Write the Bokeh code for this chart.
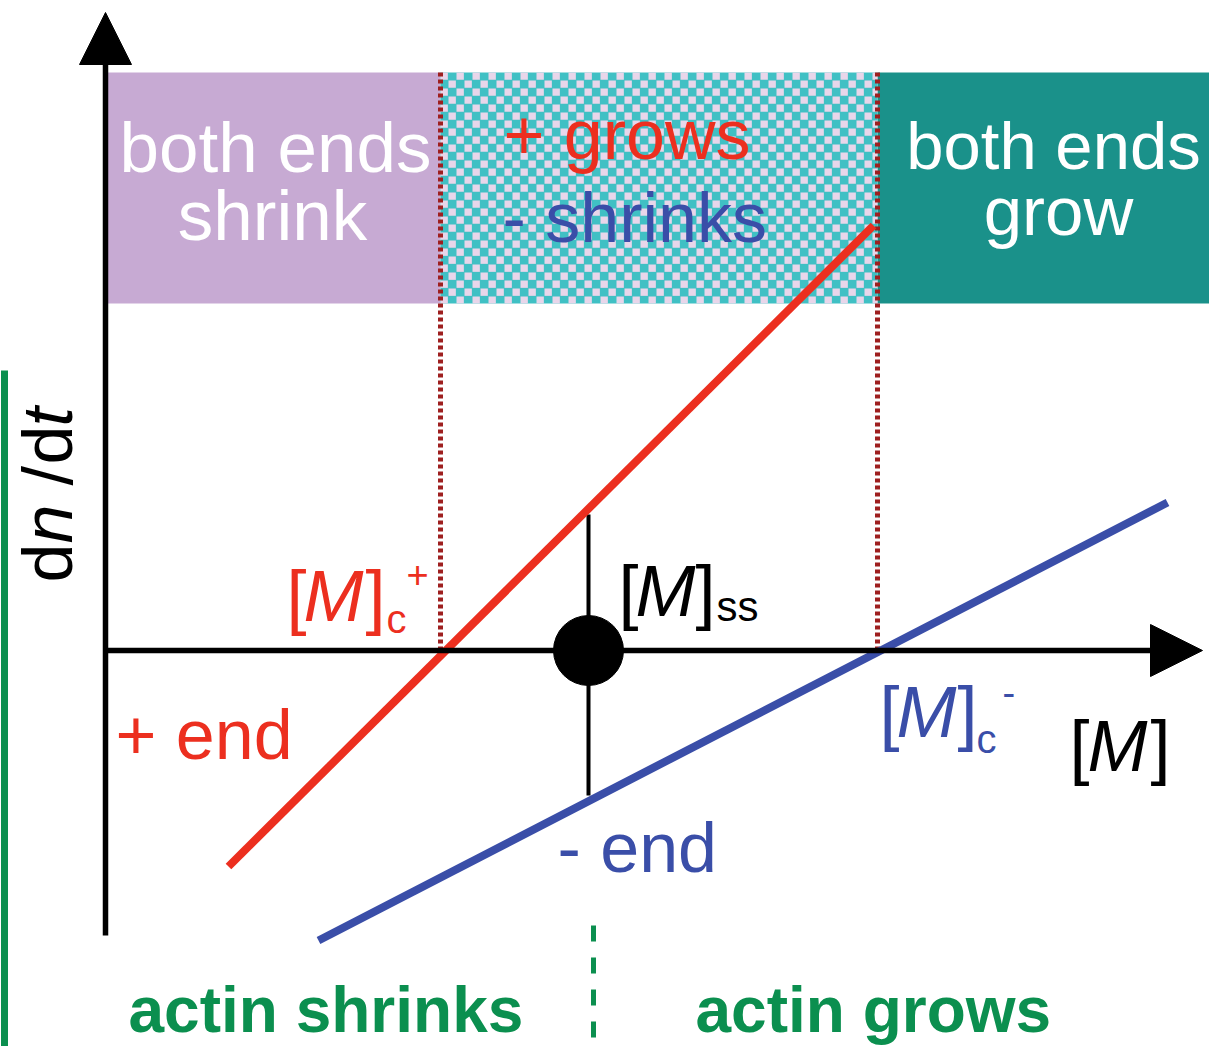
import numpy as np
from math import pi
from bokeh.plotting import figure
from bokeh.models import Range1d, Label, Arrow, NormalHead
from bokeh.embed import file_html
from bokeh.resources import INLINE

# ---------------- data (conceptual units: [M] on x, dn/dt on y) ----------------
plus_end_x = [1.23, 7.68]      # + end line (red)
plus_end_y = [-2.16, 4.25]
minus_end_x = [2.13, 10.62]    # - end line (blue)
minus_end_y = [-2.90, 1.48]
Mc_plus = 3.35                 # critical concentration, + end
Mss = 4.83                     # steady-state concentration
Mc_minus = 7.72                # critical concentration, - end
ss_rate_plus = 1.36            # + end rate at [M]ss
ss_rate_minus = -1.45          # - end rate at [M]ss
regime_labels = [("both ends", "shrink"), ("+ grows", "- shrinks"), ("both ends", "grow")]
bottom_labels = ["actin shrinks", "actin grows"]

FONT = "Liberation Sans"
RED = "#ec2f1f"
BLUE = "#3a4ea8"
DRED = "#9e1f1f"
GREEN = "#0b8f4f"
PURPLE = "#c7aad3"
TEAL = "#1a918a"
CHK_T = "#40c0c4"
CHK_P = "#e8d6ea"

# layout helpers: picture pixel -> plot units
def X(px):
    return (px - 105) / 100.0

def Y(py):
    return (650 - py) / 100.0

W, H = 1209, 1046
p = figure(width=W, height=H, x_range=Range1d(X(0), X(W)), y_range=Range1d(Y(H), Y(0)),
           x_axis_type=None, y_axis_type=None, toolbar_location=None, output_backend="svg",
           min_border=0, outline_line_color=None, background_fill_color="white",
           border_fill_color="white")
p.grid.visible = False

band_top, band_bot = Y(72), Y(303)
x_right = X(W)
# regime bands
p.quad(left=[0], right=[Mc_plus], top=[band_top], bottom=[band_bot], fill_color=PURPLE, line_color=None)
p.quad(left=[Mc_minus], right=[x_right], top=[band_top], bottom=[band_bot], fill_color=TEAL, line_color=None)
p.quad(left=[Mc_plus], right=[Mc_minus], top=[band_top], bottom=[band_bot], fill_color=CHK_T, line_color=None)
# checker texture
cell = 0.08
nx = int(np.ceil((Mc_minus - Mc_plus) / cell))
ny = int(np.ceil((band_top - band_bot) / cell))
lefts, tops = [], []
for i in range(nx):
    for j in range(ny):
        if (i + j) % 2 == 0:
            lefts.append(Mc_plus + i * cell)
            tops.append(band_top - j * cell)
lefts = np.array(lefts); tops = np.array(tops)
rights = np.minimum(lefts + cell * 0.92, Mc_minus)
bots = np.maximum(tops - cell * 0.92, band_bot)
p.quad(left=lefts, right=rights, top=tops, bottom=bots, fill_color=CHK_P, line_color=None)

# dotted critical lines
for xc in (Mc_plus, Mc_minus):
    p.line([xc, xc], [band_top, 0], line_color=DRED, line_width=5, line_dash="4 3")

# axes with arrows
p.add_layout(Arrow(end=NormalHead(size=52, fill_color="black", line_color="black"),
                   x_start=0, y_start=Y(935), x_end=0, y_end=Y(12), line_width=5.5, line_color="black"))
p.add_layout(Arrow(end=NormalHead(size=52, fill_color="black", line_color="black"),
                   x_start=0, y_start=0, x_end=X(1202), y_end=0, line_width=5.5, line_color="black"))

# steady state
p.line([Mss, Mss], [ss_rate_plus, ss_rate_minus], line_color="black", line_width=4)
p.scatter([Mss], [0], size=70, color="black")

# rate lines
p.line(plus_end_x, plus_end_y, line_color=RED, line_width=8)
p.line(minus_end_x, minus_end_y, line_color=BLUE, line_width=8)

# green markers
p.line([X(4), X(4)], [Y(370), Y(H)], line_color=GREEN, line_width=7)
p.line([X(593), X(593)], [Y(925), Y(H)], line_color=GREEN, line_width=5, line_dash="16 16")

K = 0.37  # baseline correction (fraction of font size)

def lab(px, py, text, size, color, align="left", style="normal", angle=0):
    if angle == 0:
        py = py - K * size
    else:
        px = px - K * size
    p.add_layout(Label(x=X(px), y=Y(py), text=text, text_font=FONT, text_font_size=f"{size}px",
                       text_color=color, text_align=align, text_baseline="alphabetic",
                       text_font_style=style, angle=angle))

# band texts
lab(275, 173, regime_labels[0][0], 71, "white", "center")
lab(272, 241, regime_labels[0][1], 71, "white", "center")
lab(503, 160, regime_labels[1][0], 70, RED)
lab(502, 243, regime_labels[1][1], 70, BLUE)
lab(1053, 170, regime_labels[2][0], 67, "white", "center")
lab(1058, 237, regime_labels[2][1], 69, "white", "center")

# line labels
lab(115, 760, "+ end", 70, RED)
lab(557, 873, "- end", 70, BLUE)

MS = 72
# [M]c+
lab(286, 622, "[", MS, RED)
lab(303, 622, "M", MS, RED, style="italic")
lab(365, 622, "]", MS, RED)
lab(386, 633, "c", 40, RED)
lab(406, 588, "+", 38, RED)
# [M]ss
lab(618, 617, "[", MS, "black")
lab(635, 617, "M", MS, "black", style="italic")
lab(695, 617, "]", MS, "black")
lab(716, 622, "ss", 42, "black")
# [M]c-
lab(879, 738, "[", MS, BLUE)
lab(896, 738, "M", MS, BLUE, style="italic")
lab(957, 738, "]", MS, BLUE)
lab(976, 753, "c", 40, BLUE)
lab(1002, 706, "-", 38, BLUE)
# [M]
lab(1069, 772, "[", MS, "black")
lab(1087, 772, "M", MS, "black", style="italic")
lab(1150, 772, "]", MS, "black")

# dn/dt vertical
lab(73, 582, "d", 70, "black", angle=pi / 2)
lab(73, 543, "n", 70, "black", style="italic", angle=pi / 2)
lab(73, 485, "/", 70, "black", angle=pi / 2)
lab(73, 464, "d", 70, "black", angle=pi / 2)
lab(73, 426, "t", 70, "black", style="italic", angle=pi / 2)

# bottom labels
lab(128, 1033, bottom_labels[0], 64, GREEN, style="bold")
lab(695, 1033, bottom_labels[1], 64, GREEN, style="bold")

open("out.html", "w").write(file_html(p, INLINE))
